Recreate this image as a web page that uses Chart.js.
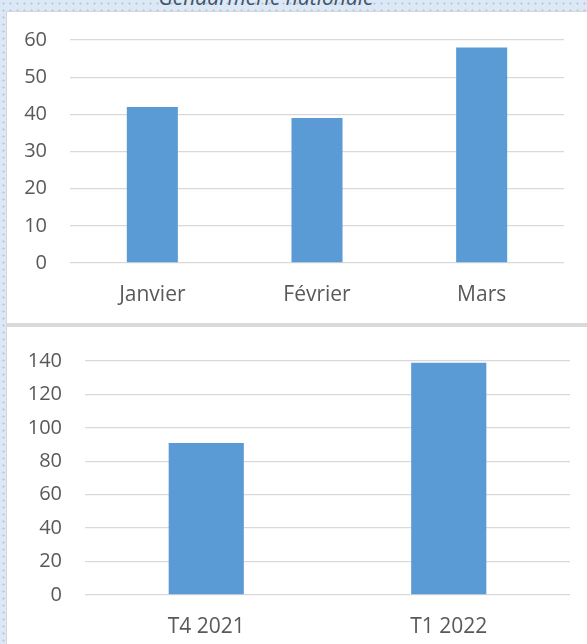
<!DOCTYPE html>
<html lang="fr">
<head>
<meta charset="utf-8">
<title>Gendarmerie nationale</title>
<script src="https://cdn.jsdelivr.net/npm/chart.js@4"></script>
<style>
  html, body {
    margin: 0;
    padding: 0;
  }
  body {
    width: 587px;
    height: 644px;
    position: relative;
    overflow: hidden;
    background-color: #dce8f5;
    background-image: radial-gradient(circle, #b9cadf 0.9px, transparent 1.3px);
    background-size: 7px 7px;
    font-family: "Open Sans", sans-serif;
  }
  .title {
    position: absolute;
    left: 0;
    width: 532px;
    top: -13px;
    line-height: 20px;
    font-size: 21px;
    font-style: italic;
    text-align: center;
    color: #44546a;
  }
  .panel {
    position: absolute;
    left: 6px;
    width: 581px;
    background: #ffffff;
    border-left: 1px solid #d6d6d6;
    box-sizing: border-box;
  }
  #panelMonths {
    top: 11px;
    height: 312px;
    border-top: 1px solid #d6d6d6;
  }
  #panelQuarters {
    top: 323px;
    height: 321px;
    border-top: 4px solid #dadada;
  }
  canvas {
    display: block;
  }
</style>
</head>
<body>
<div class="title">Gendarmerie nationale</div>
<div class="panel" id="panelMonths"><canvas id="chartMonths"></canvas></div>
<div class="panel" id="panelQuarters"><canvas id="chartQuarters"></canvas></div>

<script>
// Monthly figures (top chart)
const monthLabels = ["Janvier", "Février", "Mars"];
const monthValues = [42, 39, 58];
const monthTicks = [0, 10, 20, 30, 40, 50, 60];

// Quarterly figures (bottom chart)
const quarterLabels = ["T4 2021", "T1 2022"];
const quarterValues = [91, 139];
const quarterTicks = [0, 20, 40, 60, 80, 100, 120, 140];

const barColor = "#5b9bd5";
const textColor = "#595959";
const gridColor = "#d9d9d9";
const fontFamily = "'Open Sans', sans-serif";

const buildBarChart = (canvasId, size, labels, values, ticks, geometry) => {
  const canvas = document.getElementById(canvasId);
  canvas.width = size.width;
  canvas.height = size.height;
  canvas.style.width = size.width + "px";
  canvas.style.height = size.height + "px";

  return new Chart(canvas, {
    type: "bar",
    data: {
      labels: labels,
      datasets: [
        {
          data: values,
          backgroundColor: barColor,
          borderWidth: 0,
          categoryPercentage: 1,
          barPercentage: 0.31,
        },
      ],
    },
    options: {
      responsive: false,
      animation: false,
      layout: {
        padding: { top: geometry.top, right: geometry.right, left: 0, bottom: 0 },
      },
      plugins: {
        legend: { display: false },
        tooltip: { enabled: false },
      },
      scales: {
        x: {
          grid: { display: false, drawTicks: false },
          border: { display: false },
          ticks: {
            color: textColor,
            font: { family: fontFamily, size: 21 },
            padding: geometry.labelGap,
          },
          // Fix the axis height so the plot area lands where the reference has it
          afterFit: (scale) => {
            scale.height = geometry.xHeight;
            scale.paddingLeft = 0;
            scale.paddingRight = 0;
          },
        },
        y: {
          min: ticks[0],
          max: ticks[ticks.length - 1],
          afterBuildTicks: (scale) => {
            scale.ticks = ticks.map((value) => ({ value }));
          },
          grid: { color: gridColor, lineWidth: 1.3, drawTicks: false },
          border: { display: false },
          ticks: {
            color: textColor,
            font: { family: fontFamily, size: 20 },
            padding: 23,
          },
          afterFit: (scale) => {
            scale.width = geometry.yWidth;
            scale.paddingTop = 0;
            scale.paddingBottom = 0;
          },
        },
      },
    },
  });
};

document.fonts.load("20px 'Open Sans'").then(() => {
  buildBarChart("chartMonths", { width: 580, height: 311 }, monthLabels, monthValues, monthTicks, {
    top: 28,
    right: 23,
    yWidth: 63,
    xHeight: 60,
    labelGap: 19,
  });

  buildBarChart("chartQuarters", { width: 580, height: 317 }, quarterLabels, quarterValues, quarterTicks, {
    top: 34,
    right: 17,
    yWidth: 78,
    xHeight: 49,
    labelGap: 19,
  });
});
</script>
</body>
</html>
